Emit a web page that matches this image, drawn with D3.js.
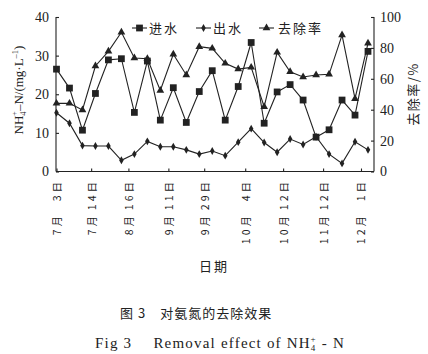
<!DOCTYPE html>
<html><head><meta charset="utf-8">
<script src="https://cdn.jsdelivr.net/npm/d3@7"></script>
<style>body{margin:0;background:#fff}svg{display:block}text{fill:#222}</style>
</head><body><svg id="c" width="428" height="354"></svg>
<script>
const influent = [26.5,21.6,10.7,20.2,28.9,29.2,15.3,28.6,13.3,21.7,12.7,20.7,26.1,13.3,22.0,33.4,12.5,20.6,22.5,18.5,8.9,10.8,18.5,14.6,31.1];
const effluent = [15.2,12.5,6.7,6.6,6.6,2.9,4.5,7.8,6.4,6.4,5.6,4.5,5.3,4.1,7.6,11.1,7.5,5.0,8.4,7.0,9.0,4.5,2.1,7.7,5.6];
const removal  = [44.1,44.1,39.8,68.3,77.8,90.1,73.5,73.0,52.4,75.9,62.5,80.8,79.7,70.0,66.3,67.4,41.9,77.1,64.6,61.2,62.5,62.9,88.3,47.1,83.0];
const tickMonth = ["7月","7月","8月","9月","9月","10月","10月","11月","12月"];
const tickDay   = ["3日","14日","16日","11日","29日","4日","12日","12日","1日"];
const tickAt    = [0,2.67,5.54,8.62,11.38,14.54,17.46,20.54,23.46];
const leftTicks = [0,10,20,30,40];
const rightTicks = [0,20,40,60,80,100];
const seriesNames = ["进水","出水","去除率"];

const svg = d3.select("#c");
const ink = "#222";
const serif = "'Liberation Serif','Times New Roman','Noto Sans CJK SC',serif";
const cjk = "'Noto Sans CJK SC','Liberation Serif',serif";
const L=56, R=374, T=17, B=171.5;
const x = d3.scaleLinear().domain([0, influent.length-1]).range([L+0.5, R-6]);
const yL = d3.scaleLinear().domain([0,40]).range([B,T]);
const yR = d3.scaleLinear().domain([0,100]).range([B,T]);

// axes
const gL = svg.append("g").attr("transform",`translate(${L},0)`)
  .call(d3.axisRight(yL).tickValues(leftTicks).tickSize(3).tickFormat(""));
const gR = svg.append("g").attr("transform",`translate(${R},0)`)
  .call(d3.axisLeft(yR).tickValues(rightTicks).tickSize(3).tickFormat(""));
const gB = svg.append("g").attr("transform",`translate(0,${B})`)
  .call(d3.axisTop(x).tickValues(tickAt).tickSize(3).tickFormat(""));
[gL,gR,gB].forEach(g=>{g.selectAll("path,line").attr("stroke",ink).attr("stroke-width",1.1);});
gL.select(".domain").attr("d",`M0,${T}V${B}`);
gR.select(".domain").attr("d",`M0,${T}V${B}`);
gB.select(".domain").attr("d",`M${L},0H${R}`);

// tick labels
svg.append("g").selectAll("text").data(leftTicks).join("text")
  .attr("x",49).attr("y",d=>yL(d)).attr("dy","0.35em").attr("text-anchor","end")
  .attr("font-family",serif).attr("font-size",14).text(d=>d);
svg.append("g").selectAll("text").data(rightTicks).join("text")
  .attr("x",380).attr("y",d=>yR(d)).attr("dy","0.35em").attr("text-anchor","start")
  .attr("font-family",serif).attr("font-size",14).text(d=>d);

const xl = svg.append("g");
tickAt.forEach((t,i)=>{
  const px = x(t);
  xl.append("text").attr("transform",`translate(${px},179) rotate(-90)`)
    .attr("text-anchor","end").attr("dominant-baseline","central")
    .attr("font-family",cjk).attr("font-size",10.5).attr("letter-spacing",3)
    .text(tickDay[i]);
  xl.append("text").attr("transform",`translate(${px},213) rotate(-90)`)
    .attr("text-anchor","end").attr("dominant-baseline","central")
    .attr("font-family",cjk).attr("font-size",10.5).attr("letter-spacing",3)
    .text(tickMonth[i]);
});

// axis titles
svg.append("text").attr("x",214).attr("y",271).attr("text-anchor","middle")
  .attr("font-family",cjk).attr("font-size",13).attr("letter-spacing",2).text("日期");
const yt = svg.append("text").attr("transform","translate(23,90) rotate(-90)")
  .attr("text-anchor","middle").attr("font-family",serif).attr("font-size",13);
yt.append("tspan").text("NH");
yt.append("tspan").attr("font-size",8.5).attr("dy",3).text("4");
yt.append("tspan").attr("font-size",8.5).attr("dy",-9).attr("dx",-4.5).text("+");
yt.append("tspan").attr("dy",6).text("–N/(mg·L");
yt.append("tspan").attr("font-size",8.5).attr("dy",-5).text("–1");
yt.append("tspan").attr("dy",5).text(")");
svg.append("text").attr("transform","translate(418,94) rotate(-90)")
  .attr("text-anchor","middle").attr("font-family",cjk).attr("font-size",13)
  .attr("letter-spacing",1.5).text("去除率/%");

// lines
const line = (ys)=>d3.line().x((d,i)=>x(i)).y(d=>ys(d));
const series = [
  {name:seriesNames[0], data:influent, ys:yL, sym:d3.symbolSquare, size:46},
  {name:seriesNames[1], data:effluent, ys:yL, sym:d3.symbolDiamond, size:18},
  {name:seriesNames[2], data:removal,  ys:yR, sym:d3.symbolTriangle, size:26}
];
series.forEach(s=>{
  svg.append("path").datum(s.data).attr("d",line(s.ys)).attr("fill","none")
    .attr("stroke",ink).attr("stroke-width",1.1);
  svg.append("g").selectAll("path").data(s.data).join("path")
    .attr("transform",(d,i)=>`translate(${x(i)},${s.ys(d)})`)
    .attr("d",d3.symbol(s.sym,s.size)).attr("fill",ink);
});

// legend
const lg = [{lx:132,tx:149},{lx:196,tx:213},{lx:259,tx:278}];
series.forEach((s,i)=>{
  const g = svg.append("g");
  g.append("line").attr("x1",lg[i].lx).attr("x2",lg[i].lx+15).attr("y1",28).attr("y2",28)
    .attr("stroke",ink).attr("stroke-width",1.1);
  g.append("path").attr("transform",`translate(${lg[i].lx+7.5},28)`)
    .attr("d",d3.symbol(s.sym,s.size)).attr("fill",ink);
  g.append("text").attr("x",lg[i].tx).attr("y",28).attr("dy","0.36em")
    .attr("font-family",cjk).attr("font-size",13).attr("letter-spacing",2).text(s.name);
});

// caption
svg.append("text").attr("x",120).attr("y",318).attr("font-family",cjk).attr("font-size",13)
  .attr("letter-spacing",1).text("图 3　对氨氮的去除效果");
const cap = svg.append("text").attr("x",95).attr("y",348).attr("font-family",serif)
  .attr("font-size",15).attr("letter-spacing",1.2);
cap.append("tspan").text("Fig 3　 Removal effect of NH");
cap.append("tspan").attr("font-size",9).attr("dy",3).text("4");
cap.append("tspan").attr("font-size",9).attr("dy",-9).attr("dx",-6).text("+");
cap.append("tspan").attr("dy",6).text("  - N");
</script></body></html>
